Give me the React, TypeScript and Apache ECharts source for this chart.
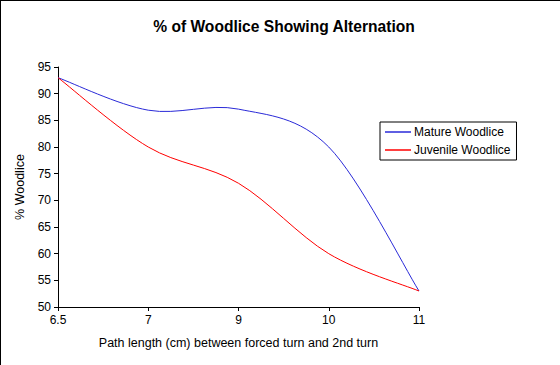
import React, { useEffect, useRef } from "react";
import * as echarts from "echarts";

const categories = ["6.5", "7", "9", "10", "11"];
const matureValues = [93, 86.9, 87.1, 80, 53];
const juvenileValues = [93, 80, 73.2, 60, 53];
const seriesNames = ["Mature Woodlice", "Juvenile Woodlice"];
const seriesColors = ["#2a2ad8", "#ff0000"];
const titleText = "% of Woodlice Showing Alternation";
const xAxisName = "Path length (cm) between forced turn and 2nd turn";
const yAxisName = "% Woodlice";

const FONT = "'Liberation Sans', Arial, sans-serif";

function makeSmoothSeries(name: string, values: number[], color: string) {
  return {
    name,
    type: "custom",
    coordinateSystem: "cartesian2d",
    data: values.map((v, i) => [i, v]),
    encode: { x: 0, y: 1 },
    itemStyle: { color },
    renderItem: (params: any, api: any) => {
      const i = params.dataIndex;
      const n = values.length;
      if (i >= n - 1) return null;
      const pt = (j: number) => {
        const k = Math.max(0, Math.min(n - 1, j));
        return api.coord([k, values[k]]);
      };
      const p0 = pt(i - 1);
      const p1 = pt(i);
      const p2 = pt(i + 1);
      const p3 = pt(i + 2);
      const t = 1 / 6;
      return {
        type: "bezierCurve",
        shape: {
          x1: p1[0],
          y1: p1[1],
          x2: p2[0],
          y2: p2[1],
          cpx1: p1[0] + (p2[0] - p0[0]) * t,
          cpy1: p1[1] + (p2[1] - p0[1]) * t,
          cpx2: p2[0] - (p3[0] - p1[0]) * t,
          cpy2: p2[1] - (p3[1] - p1[1]) * t,
        },
        style: { stroke: color, lineWidth: 1, fill: "none" },
        silent: true,
      };
    },
  };
}

export default function App() {
  const ref = useRef<HTMLDivElement>(null);
  useEffect(() => {
    if (!ref.current) return;
    const chart = echarts.init(ref.current, null, { renderer: "svg" });
    chart.setOption({
      animation: false,
      backgroundColor: "#ffffff",
      title: {
        text: titleText,
        left: 279,
        top: 13,
        textAlign: "center",
        textStyle: { fontFamily: FONT, fontSize: 15.6, fontWeight: "bold", color: "#000" },
      },
      legend: {
        orient: "vertical",
        left: 380,
        top: 122,
        data: seriesNames,
        icon: "rect",
        itemWidth: 26,
        itemHeight: 1.5,
        itemGap: 6,
        padding: [4, 6, 4, 5],
        borderColor: "#000",
        borderWidth: 1,
        textStyle: { fontFamily: FONT, fontSize: 12, color: "#000", padding: [0, 0, 0, -2] },
      },
      grid: { left: 58, right: 141, top: 67, bottom: 58, containLabel: false },
      xAxis: {
        type: "category",
        data: categories,
        boundaryGap: false,
        name: xAxisName,
        nameLocation: "middle",
        nameGap: 29,
        nameTextStyle: { fontFamily: FONT, fontSize: 12.5, color: "#000" },
        axisLine: { lineStyle: { color: "#000", width: 1 } },
        axisTick: { show: true, length: 4, lineStyle: { color: "#000" }, alignWithLabel: true },
        axisLabel: { fontFamily: FONT, fontSize: 12, color: "#000", margin: 7 },
        splitLine: { show: false },
      },
      yAxis: {
        type: "value",
        min: 50,
        max: 95,
        interval: 5,
        name: yAxisName,
        nameLocation: "middle",
        nameGap: 26,
        nameRotate: 90,
        nameTextStyle: { fontFamily: FONT, fontSize: 12.5, color: "#000" },
        axisLine: { show: true, lineStyle: { color: "#000", width: 1 } },
        axisTick: { show: true, length: 4, lineStyle: { color: "#000" } },
        axisLabel: { fontFamily: FONT, fontSize: 12, color: "#000", margin: 7 },
        splitLine: { show: false },
      },
      series: [
        makeSmoothSeries(seriesNames[0], matureValues, seriesColors[0]),
        makeSmoothSeries(seriesNames[1], juvenileValues, seriesColors[1]),
      ],
    });
    return () => chart.dispose();
  }, []);
  return (
    <div style={{ position: "fixed", left: 0, top: 0, width: 560, height: 365 }}>
      <div ref={ref} style={{ position: "absolute", left: 0, top: 0, width: 560, height: 365 }} />
      <div
        style={{
          position: "absolute",
          left: 0,
          top: 0,
          width: 560,
          height: 365,
          boxSizing: "border-box",
          borderTop: "1px solid #000",
          borderLeft: "1px solid #000",
          pointerEvents: "none",
        }}
      />
    </div>
  );
}
